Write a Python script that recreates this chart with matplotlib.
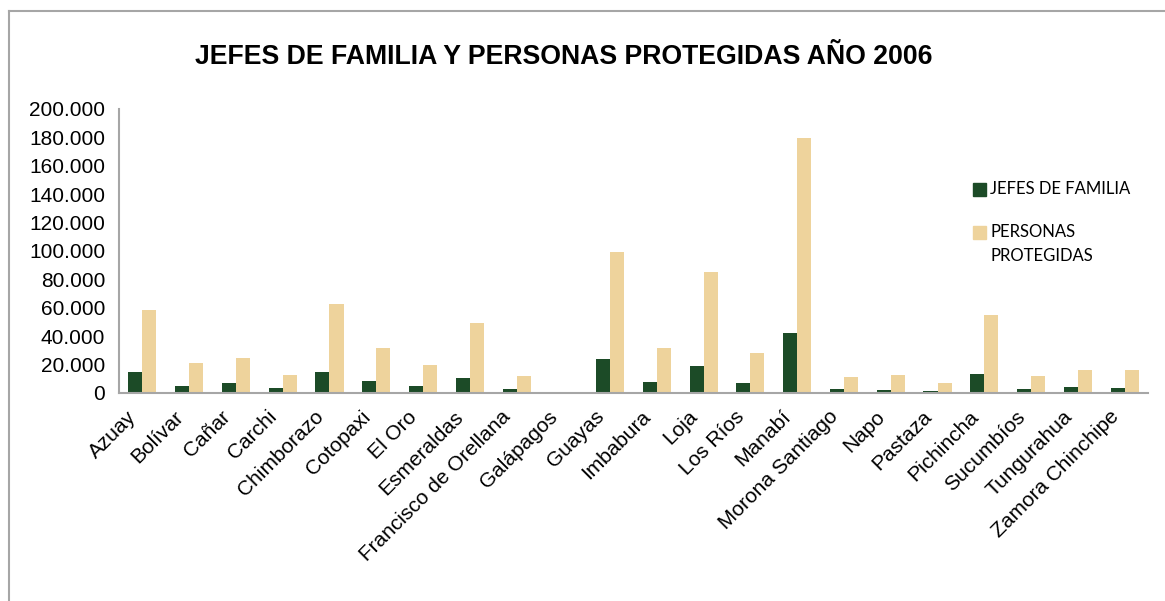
import matplotlib.pyplot as plt
import numpy as np
from matplotlib.patches import Rectangle
from matplotlib.transforms import ScaledTranslation

provincias = ["Azuay", "Bolívar", "Cañar", "Carchi", "Chimborazo", "Cotopaxi",
              "El Oro", "Esmeraldas", "Francisco de Orellana", "Galápagos",
              "Guayas", "Imbabura", "Loja", "Los Ríos", "Manabí",
              "Morona Santiago", "Napo", "Pastaza", "Pichincha", "Sucumbíos",
              "Tungurahua", "Zamora Chinchipe"]
jefes = [15000, 5100, 7200, 3700, 15000, 8600, 5200, 10800, 3000, 300,
         24200, 8000, 19300, 7300, 42500, 3000, 2300, 1600, 13600, 3000,
         4400, 3700]
protegidas = [58600, 21300, 24900, 12900, 62900, 31900, 19900, 49500, 12200, 900,
              99500, 31900, 85400, 28400, 179800, 11500, 12900, 7300, 55200, 12200,
              16400, 16400]
yticks = np.arange(0, 200001, 20000)

DARK = "#1c4b27"
LIGHT = "#eed39c"
GRAY = "#a6a6a6"

W, H = 1165, 601
fig = plt.figure(figsize=(W / 100, H / 100), dpi=100)
plt.rcParams["font.family"] = ["Liberation Sans", "DejaVu Sans"]

# outer chart frame (only top and left edges fall inside the image)
fig.add_artist(plt.Line2D([8.5 / W, 8.5 / W], [1 - 11 / H, 0], transform=fig.transFigure,
                          color=GRAY, lw=1.5))
fig.add_artist(plt.Line2D([8.5 / W, 1], [1 - 11 / H, 1 - 11 / H], transform=fig.transFigure,
                          color=GRAY, lw=1.5))

ax = fig.add_axes([119 / W, 1 - 393 / H, 1029 / W, 284 / H])
x = np.arange(len(provincias))
bw = 0.3
ax.bar(x - bw / 2, jefes, bw, color=DARK, label="JEFES DE FAMILIA")
ax.bar(x + bw / 2, protegidas, bw, color=LIGHT, label="PERSONAS PROTEGIDAS")

ax.set_xlim(-0.5, len(provincias) - 0.5)
ax.set_ylim(0, 200000)
ax.set_yticks(yticks)
ax.set_yticklabels([f"{v:,}".replace(",", ".") for v in yticks], fontsize=15)
ax.set_xticks(x)
ax.set_xticklabels(provincias, fontsize=15, rotation=45, ha="right",
                   va="center", rotation_mode="anchor")
ax.tick_params(axis="both", length=0)
ax.tick_params(axis="y", pad=10)
ax.tick_params(axis="x", pad=15)
# nudge the slanted category names a little to the left of their bars
shift = ScaledTranslation(-9 / 100, 0, fig.dpi_scale_trans)
for lbl in ax.get_xticklabels():
    lbl.set_transform(lbl.get_transform() + shift)
for s in ["top", "right"]:
    ax.spines[s].set_visible(False)
for s in ["left", "bottom"]:
    ax.spines[s].set_color(GRAY)
    ax.spines[s].set_linewidth(1.5)

fig.text(563.5 / W, 1 - 57.5 / H, "JEFES DE FAMILIA Y PERSONAS PROTEGIDAS AÑO 2006",
         ha="center", va="center", fontsize=19.2, fontweight="bold")

# legend drawn by hand so the swatch sits on the first text line
leg_font = ["Lato", "DejaVu Sans"]
for y0, color in [(183, DARK), (226, LIGHT)]:
    fig.add_artist(Rectangle((973 / W, 1 - (y0 + 13) / H), 13 / W, 13 / H,
                             transform=fig.transFigure, color=color))
fig.text(990 / W, 1 - 189 / H, "JEFES DE FAMILIA", ha="left", va="center",
         fontsize=12, family=leg_font)
fig.text(990 / W, 1 - 232 / H, "PERSONAS", ha="left", va="center",
         fontsize=12, family=leg_font)
fig.text(990 / W, 1 - 255.5 / H, "PROTEGIDAS", ha="left", va="center",
         fontsize=12, family=leg_font)

fig.savefig("out.png", dpi=100, facecolor="white")
